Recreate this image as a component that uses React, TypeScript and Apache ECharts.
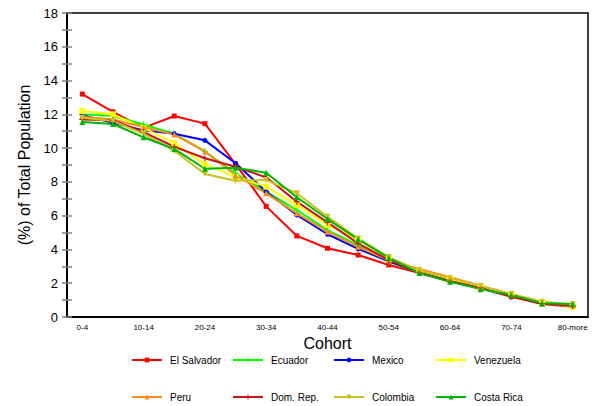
import { useEffect, useRef } from 'react';
import * as echarts from 'echarts';

const cohorts = ['0-4', '5-9', '10-14', '15-19', '20-24', '25-29', '30-34', '35-39', '40-44',
  '45-49', '50-54', '55-59', '60-64', '65-69', '70-74', '75-79', '80-more'];

const elSalvador = [13.2, 12.15, 11.2, 11.9, 11.45, 9.05, 6.55, 4.8, 4.07, 3.67, 3.08, 2.6, 2.15, 1.7, 1.2, 0.77, 0.6];
const ecuador = [12.0, 11.9, 11.4, 10.85, 9.8, 8.5, 7.42, 6.33, 5.15, 4.25, 3.27, 2.65, 2.1, 1.7, 1.25, 0.8, 0.7];
const mexico = [11.95, 11.5, 11.05, 10.85, 10.46, 9.1, 7.42, 6.04, 4.9, 4.03, 3.3, 2.65, 2.15, 1.72, 1.25, 0.8, 0.7];
const venezuela = [12.2, 12.0, 11.2, 10.3, 9.05, 8.3, 7.72, 6.63, 5.45, 4.6, 3.45, 2.75, 2.25, 1.8, 1.32, 0.88, 0.6];
const peru = [11.85, 11.7, 11.25, 10.8, 9.8, 8.4, 7.32, 6.14, 5.05, 4.16, 3.35, 2.85, 2.35, 1.85, 1.35, 0.85, 0.7];
const domRep = [11.7, 11.65, 10.95, 10.08, 9.4, 8.9, 8.27, 6.83, 5.6, 4.36, 3.37, 2.62, 2.12, 1.72, 1.22, 0.8, 0.65];
const colombia = [11.8, 11.6, 10.85, 9.85, 8.47, 8.07, 8.11, 7.32, 5.94, 4.65, 3.55, 2.75, 2.3, 1.84, 1.36, 0.9, 0.75];
const costaRica = [11.55, 11.43, 10.64, 9.95, 8.78, 8.84, 8.54, 7.09, 5.8, 4.6, 3.5, 2.6, 2.08, 1.65, 1.3, 0.82, 0.77];

const plus = 'path://M4,0H6V4H10V6H6V10H4V6H0V4H4Z';
const downTri = 'path://M0,0L10,0L5,9Z';

const countries = [
  { name: 'El Salvador', data: elSalvador, color: '#ff0000', symbol: 'rect', size: 5 },
  { name: 'Ecuador', data: ecuador, color: '#00ff00', symbol: plus, size: 6 },
  { name: 'Mexico', data: mexico, color: '#0000ff', symbol: 'circle', size: 5 },
  { name: 'Venezuela', data: venezuela, color: '#ffff00', symbol: 'rect', size: 6 },
  { name: 'Peru', data: peru, color: '#ff8c1a', symbol: 'triangle', size: 6 },
  { name: 'Dom. Rep.', data: domRep, color: '#c81414', symbol: plus, size: 6 },
  { name: 'Colombia', data: colombia, color: '#c8c21e', symbol: downTri, size: 6 },
  { name: 'Costa Rica', data: costaRica, color: '#00b400', symbol: 'triangle', size: 6 },
];

const FONT = 'Liberation Sans, Arial, sans-serif';
const TICK_COLOR = '#808080';

export default function App() {
  const chartRef = useRef<HTMLDivElement>(null);

  useEffect(() => {
    if (!chartRef.current) return;
    const chart = echarts.init(chartRef.current, null, { renderer: 'svg' });

    const colLeft = [131, 232, 333, 435];
    const rowTop = [355, 392];

    // one legend per item so the 4x2 grid lines up in fixed columns
    const legends = countries.map((c, i) => ({
      data: [c.name],
      left: colLeft[i % 4],
      top: rowTop[Math.floor(i / 4)],
      padding: 0,
      itemWidth: 30,
      itemHeight: 6,
      textStyle: { fontFamily: FONT, fontSize: 10, color: '#000', padding: [0, 0, 0, 3] },
    }));

    const tickStyle = { color: TICK_COLOR, width: 1.5 };

    chart.setOption({
      animation: false,
      backgroundColor: '#fff',
      textStyle: { fontFamily: FONT },
      grid: {
        left: 67,
        right: 11,
        top: 13,
        bottom: 89,
        show: true,
        borderColor: '#000',
        borderWidth: 1.5,
      },
      legend: legends,
      xAxis: [
        {
          type: 'category',
          data: cohorts,
          boundaryGap: true,
          name: 'Cohort',
          nameLocation: 'middle',
          nameGap: 16,
          nameTextStyle: { fontFamily: FONT, fontSize: 16, color: '#000' },
          axisLine: { lineStyle: { color: '#000', width: 2 } },
          axisTick: { alignWithLabel: true, interval: 0, length: 6, lineStyle: tickStyle },
          axisLabel: { interval: 1, fontFamily: FONT, fontSize: 8, color: '#000', margin: 6 },
          splitLine: { show: false },
        },
        {
          // inner half of the crossing ticks
          type: 'category',
          data: cohorts,
          boundaryGap: true,
          position: 'bottom',
          offset: 0,
          axisLine: { show: false },
          axisTick: { alignWithLabel: true, interval: 0, inside: true, length: 6, lineStyle: tickStyle },
          axisLabel: { show: false },
          splitLine: { show: false },
        },
      ],
      yAxis: [
        {
          type: 'value',
          min: 0,
          max: 18,
          interval: 2,
          name: '(%) of Total Population',
          nameLocation: 'middle',
          nameGap: 32,
          nameTextStyle: { fontFamily: FONT, fontSize: 16, color: '#000' },
          axisLine: { show: true, lineStyle: { color: '#000', width: 2 } },
          axisTick: { show: true, length: 5, lineStyle: tickStyle },
          minorTick: { show: true, splitNumber: 2, length: 5, lineStyle: tickStyle },
          axisLabel: { fontFamily: FONT, fontSize: 13, color: '#000', margin: 9 },
          splitLine: { show: false },
        },
        {
          type: 'value',
          min: 0,
          max: 18,
          interval: 2,
          position: 'left',
          offset: 0,
          axisLine: { show: false },
          axisTick: { show: true, inside: true, length: 5, lineStyle: tickStyle },
          minorTick: { show: true, splitNumber: 2, length: 5, lineStyle: tickStyle },
          axisLabel: { show: false },
          splitLine: { show: false },
        },
      ],
      series: countries.map((c) => ({
        name: c.name,
        type: 'line',
        data: c.data,
        xAxisIndex: 0,
        yAxisIndex: 0,
        symbol: c.symbol,
        symbolSize: c.size,
        showAllSymbol: true,
        lineStyle: { color: c.color, width: 2 },
        itemStyle: { color: c.color },
      })),
    });

    return () => {
      chart.dispose();
    };
  }, []);

  return (
    <div
      ref={chartRef}
      style={{ position: 'fixed', left: 0, top: 0, width: 599, height: 406 }}
    />
  );
}
